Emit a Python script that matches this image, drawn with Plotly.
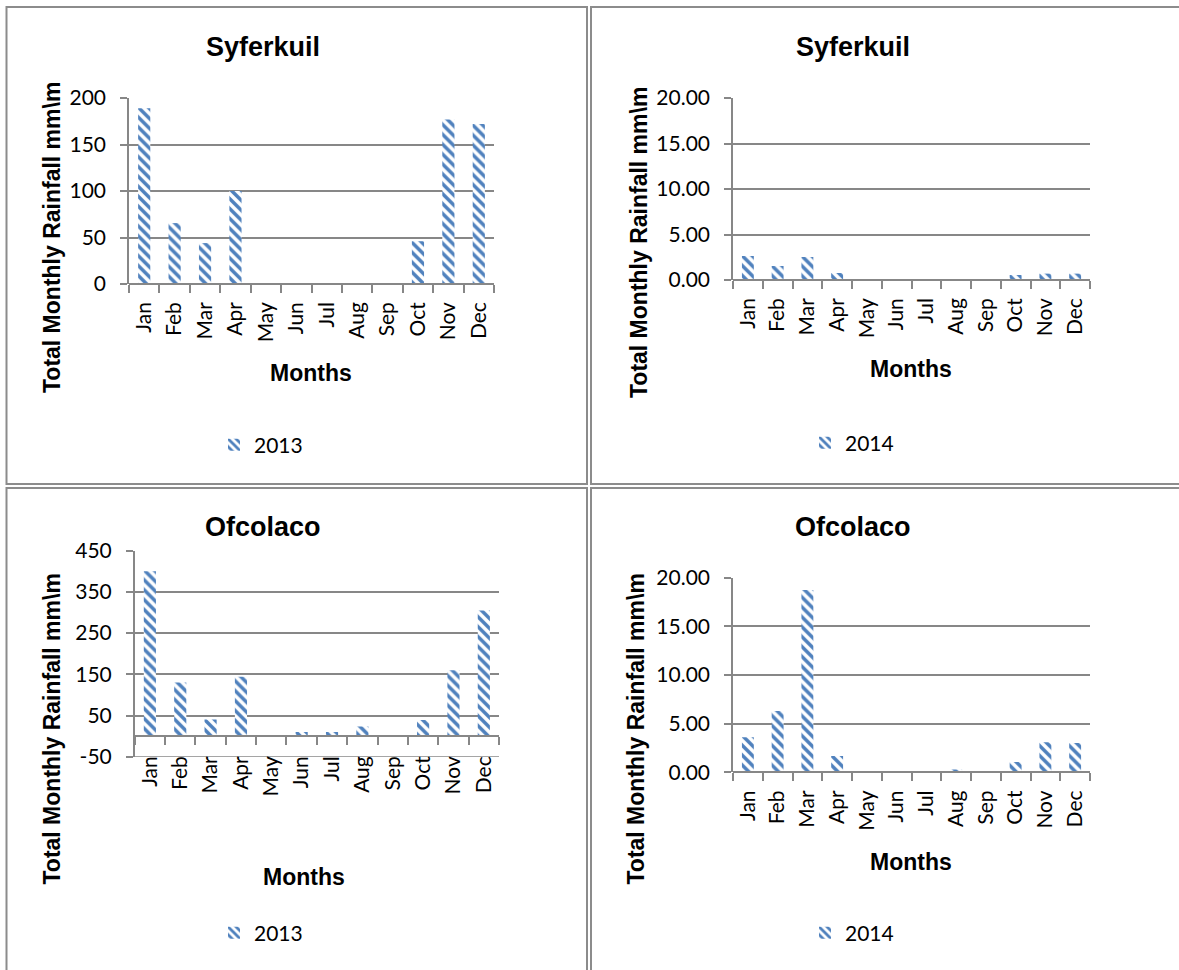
import plotly.graph_objects as go

# ---- data -------------------------------------------------------------
months = ["Jan", "Feb", "Mar", "Apr", "May", "Jun",
          "Jul", "Aug", "Sep", "Oct", "Nov", "Dec"]

syferkuil_2013 = [189, 65.5, 44, 100, 0, 0, 0, 0, 0.5, 46, 177, 172]
syferkuil_2014 = [2.64, 1.54, 2.53, 0.77, 0, 0, 0, 0, 0, 0.55, 0.70, 0.70]
ofcolaco_2013 = [400, 130, 40, 144, 0, 10, 10, 23, 0, 39, 160, 305]
ofcolaco_2014 = [3.60, 6.30, 18.73, 1.67, 0, 0, 0, 0.30, 0, 1.06, 3.10, 3.00]

# ---- page geometry ----------------------------------------------------
W, H = 1179, 970


def fx(px):
    return px / W


def fy(py):
    return 1 - py / H


BAR_BLUE = "#4F81BD"
GRID = "#878787"
TICK_FONT = dict(family="Lato, 'Open Sans', sans-serif", size=21, color="#000000")
BOLD_FAMILY = "'Liberation Sans', Arial, sans-serif"

panels = [
    dict(site="Syferkuil", year="2013", values=syferkuil_2013,
         xdom=(129, 494), ydom=(284, 98), yrange=[0, 200], dtick=50,
         fmt="{:.0f}", label_gap=9, title_xy=(263, 47), ytitle_xy=(52, 238),
         xtitle_xy=(311, 373), legend_xy=(214, 445), box=(6.5, 7, 587, 484)),
    dict(site="Syferkuil", year="2014", values=syferkuil_2014,
         xdom=(733, 1090), ydom=(280, 98), yrange=[0, 20], dtick=5,
         fmt="{:.2f}", label_gap=9, title_xy=(853, 47), ytitle_xy=(639, 243),
         xtitle_xy=(911, 369), legend_xy=(805, 443), box=(591, 7, 1190, 484)),
    dict(site="Ofcolaco", year="2013", values=ofcolaco_2013,
         xdom=(134.7, 499), ydom=(756.7, 550.7), yrange=[-50, 450], dtick=100,
         fmt="{:.0f}", label_gap=11, title_xy=(263, 527), ytitle_xy=(51, 729.5),
         xtitle_xy=(304, 877), legend_xy=(214, 933), box=(6.5, 488, 587, 990)),
    dict(site="Ofcolaco", year="2014", values=ofcolaco_2014,
         xdom=(733, 1090), ydom=(772.3, 577.7), yrange=[0, 20], dtick=5,
         fmt="{:.2f}", label_gap=9, title_xy=(853, 527), ytitle_xy=(635, 729.5),
         xtitle_xy=(911, 862), legend_xy=(805, 933), box=(591, 488, 1190, 990)),
]

fig = go.Figure()
annotations = []
shapes = []
layout = {}

for i, p in enumerate(panels, start=1):
    sfx = "" if i == 1 else str(i)
    legend_name = "legend" + sfx

    fig.add_trace(go.Bar(
        x=months, y=p["values"], name=p["year"],
        xaxis="x" + sfx, yaxis="y" + sfx, legend=legend_name,
        marker=dict(color="white", line=dict(width=0),
                    pattern=dict(shape="\\", fgcolor=BAR_BLUE, bgcolor="white",
                                 fgopacity=1, size=7, solidity=0.5,
                                 fillmode="overlay")),
        showlegend=True,
    ))

    y0, y1 = p["yrange"]
    ydom = [fy(p["ydom"][0]), fy(p["ydom"][1])]
    # category axis sits where the value axis crosses zero
    zero_pos = ydom[0] + (0 - y0) / (y1 - y0) * (ydom[1] - ydom[0])

    # value-axis ticks, written with a plain hyphen for negatives
    n_ticks = int(round((y1 - y0) / p["dtick"])) + 1
    tickvals = [y0 + k * p["dtick"] for k in range(n_ticks)]
    ticktext = [p["fmt"].format(v) for v in tickvals]

    layout["xaxis" + sfx] = dict(
        domain=[fx(p["xdom"][0]), fx(p["xdom"][1])],
        anchor="free", position=zero_pos, automargin=False,
        type="category", tickangle=-90, tickfont=TICK_FONT,
        showline=True, linecolor=GRID, linewidth=1.5,
        ticks="outside", ticklen=8, tickcolor=GRID, tickwidth=1.5,
        tickson="boundaries", showgrid=False, zeroline=False,
        ticklabelstandoff=p["label_gap"],
        fixedrange=True,
    )
    layout["yaxis" + sfx] = dict(
        domain=ydom, anchor="x" + sfx, range=p["yrange"], automargin=False,
        tickmode="array", tickvals=tickvals, ticktext=ticktext,
        tickfont=TICK_FONT, showline=True, linecolor=GRID, linewidth=1.5,
        ticks="outside", ticklen=7, tickcolor=GRID, tickwidth=1.5,
        showgrid=True, gridcolor=GRID, gridwidth=1.5, zeroline=False,
        ticklabelstandoff=10, fixedrange=True,
    )
    if y0 < 0:
        # gridline at the negative floor of the value axis
        shapes.append(dict(type="line", xref="x%s domain" % sfx, yref="y" + sfx,
                           x0=0, x1=1, y0=tickvals[0], y1=tickvals[0],
                           line=dict(color=GRID, width=1.5), layer="below"))

    layout[legend_name] = dict(
        x=fx(p["legend_xy"][0]), y=fy(p["legend_xy"][1]),
        xanchor="left", yanchor="middle", orientation="h",
        font=dict(family=TICK_FONT["family"], size=21, color="#000000"),
        bgcolor="rgba(0,0,0,0)",
    )

    annotations.append(dict(
        text="<b>%s</b>" % p["site"], x=fx(p["title_xy"][0]), y=fy(p["title_xy"][1]),
        xref="paper", yref="paper", showarrow=False, xanchor="center", yanchor="middle",
        font=dict(family=BOLD_FAMILY, size=27, color="#000000")))
    annotations.append(dict(
        text="<b>Total Monthly Rainfall mm\\m</b>",
        x=fx(p["ytitle_xy"][0]), y=fy(p["ytitle_xy"][1]), textangle=-90,
        xref="paper", yref="paper", showarrow=False, xanchor="center", yanchor="middle",
        font=dict(family=BOLD_FAMILY, size=23, color="#000000")))
    annotations.append(dict(
        text="<b>Months</b>", x=fx(p["xtitle_xy"][0]), y=fy(p["xtitle_xy"][1]),
        xref="paper", yref="paper", showarrow=False, xanchor="center", yanchor="middle",
        font=dict(family=BOLD_FAMILY, size=23, color="#000000")))

    bx0, by0, bx1, by1 = p["box"]
    shapes.append(dict(type="rect", xref="paper", yref="paper",
                       x0=fx(bx0), x1=fx(bx1), y0=fy(by1), y1=fy(by0),
                       line=dict(color="#8c8c8c", width=2), layer="below"))

fig.update_layout(
    template="none",
    width=W, height=H, margin=dict(l=0, r=0, t=0, b=0, autoexpand=False),
    paper_bgcolor="white", plot_bgcolor="white",
    bargap=0.6, annotations=annotations, shapes=shapes,
    **layout,
)

fig.write_html("out.html")
